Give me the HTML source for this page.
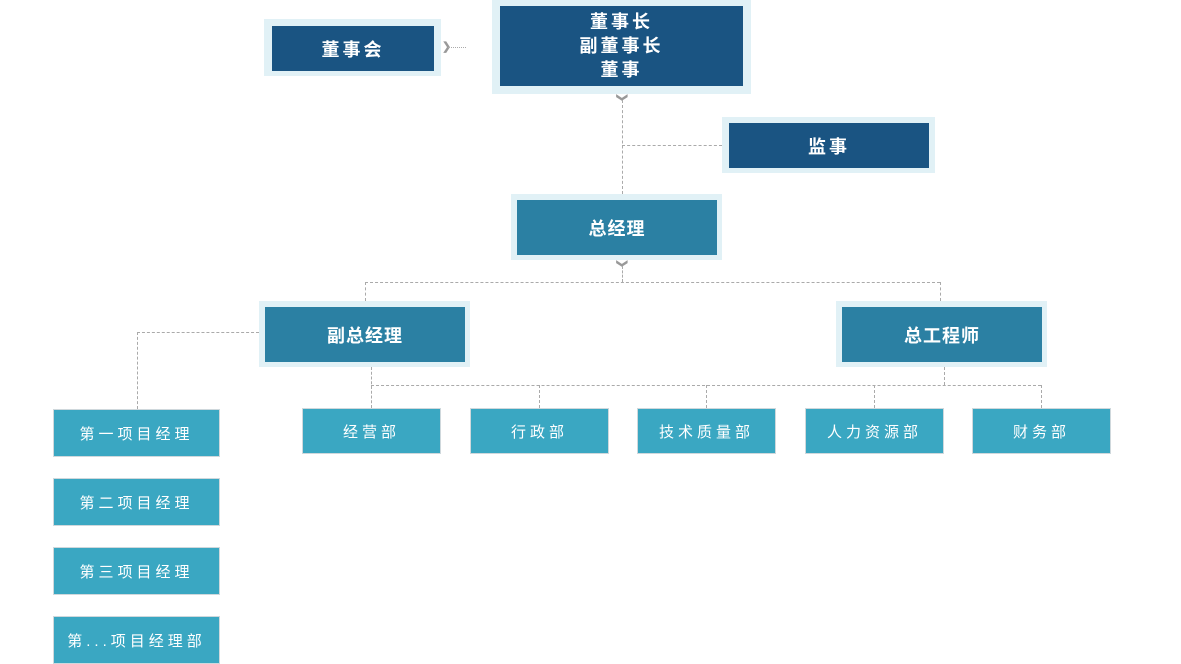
<!DOCTYPE html>
<html><head><meta charset="utf-8"><style>
body{margin:0;width:1181px;height:664px;background:#fff;position:relative;overflow:hidden;font-family:"Liberation Sans","Noto Sans CJK SC",sans-serif}
.o{position:absolute;background:#e1f1f6}
.b{position:absolute;color:#fff;display:flex;align-items:center;justify-content:center;text-align:center;letter-spacing:3px}
.d{background:#1a5482;font-size:18px;font-weight:bold}
.m{background:#2b80a3;font-size:18px;font-weight:bold;letter-spacing:1px}
.s{background:#3aa7c2;font-size:15px;border:1px solid #cfd8dc;box-sizing:border-box;letter-spacing:4px}
.h{position:absolute;border-top:1px dashed #aaa;height:0}
.v{position:absolute;border-left:1px dashed #aaa;width:0}
.ar{position:absolute;color:#999;font-size:11px;line-height:1;font-weight:bold}
</style></head><body>
<div class="o" style="left:264px;top:19px;width:177px;height:57px"></div>
<div class="b d" style="left:272px;top:26px;width:162px;height:45px">董事会</div>
<div class="o" style="left:492px;top:0;width:259px;height:94px"></div>
<div class="b d" style="left:500px;top:6px;width:243px;height:80px;line-height:24px">董事长<br>副董事长<br>董事</div>
<div class="o" style="left:722px;top:117px;width:213px;height:56px"></div>
<div class="b d" style="left:729px;top:123px;width:200px;height:45px">监事</div>
<div class="o" style="left:511px;top:194px;width:211px;height:66px"></div>
<div class="b m" style="left:517px;top:200px;width:200px;height:55px">总经理</div>
<div class="o" style="left:259px;top:301px;width:211px;height:66px"></div>
<div class="b m" style="left:265px;top:307px;width:200px;height:55px">副总经理</div>
<div class="o" style="left:836px;top:301px;width:211px;height:66px"></div>
<div class="b m" style="left:842px;top:307px;width:200px;height:55px">总工程师</div>

<div class="b s" style="left:302px;top:408px;width:139px;height:46px">经营部</div>
<div class="b s" style="left:470px;top:408px;width:139px;height:46px">行政部</div>
<div class="b s" style="left:637px;top:408px;width:139px;height:46px">技术质量部</div>
<div class="b s" style="left:805px;top:408px;width:139px;height:46px">人力资源部</div>
<div class="b s" style="left:972px;top:408px;width:139px;height:46px">财务部</div>
<div class="b s" style="left:53px;top:409px;width:167px;height:48px">第一项目经理</div>
<div class="b s" style="left:53px;top:478px;width:167px;height:48px">第二项目经理</div>
<div class="b s" style="left:53px;top:547px;width:167px;height:48px">第三项目经理</div>
<div class="b s" style="left:53px;top:616px;width:167px;height:48px">第...项目经理部</div>

<div class="ar" style="left:442px;top:42px">❯</div>
<div class="h" style="left:448px;top:47px;width:18px;border-top-style:dotted"></div>
<div class="ar" style="left:617px;top:92px;transform:rotate(90deg)">❯</div>
<div class="v" style="left:622px;top:100px;height:94px"></div>
<div class="h" style="left:622px;top:145px;width:100px"></div>
<div class="ar" style="left:617px;top:258px;transform:rotate(90deg)">❯</div>
<div class="v" style="left:622px;top:266px;height:16px"></div>
<div class="h" style="left:365px;top:282px;width:575px"></div>
<div class="v" style="left:365px;top:282px;height:19px"></div>
<div class="v" style="left:940px;top:282px;height:19px"></div>
<div class="h" style="left:137px;top:332px;width:122px"></div>
<div class="v" style="left:137px;top:332px;height:77px"></div>
<div class="v" style="left:371px;top:367px;height:41px"></div>
<div class="v" style="left:944px;top:367px;height:18px"></div>
<div class="h" style="left:371px;top:385px;width:670px"></div>
<div class="v" style="left:539px;top:385px;height:23px"></div>
<div class="v" style="left:706px;top:385px;height:23px"></div>
<div class="v" style="left:874px;top:385px;height:23px"></div>
<div class="v" style="left:1041px;top:385px;height:23px"></div>
</body></html>
